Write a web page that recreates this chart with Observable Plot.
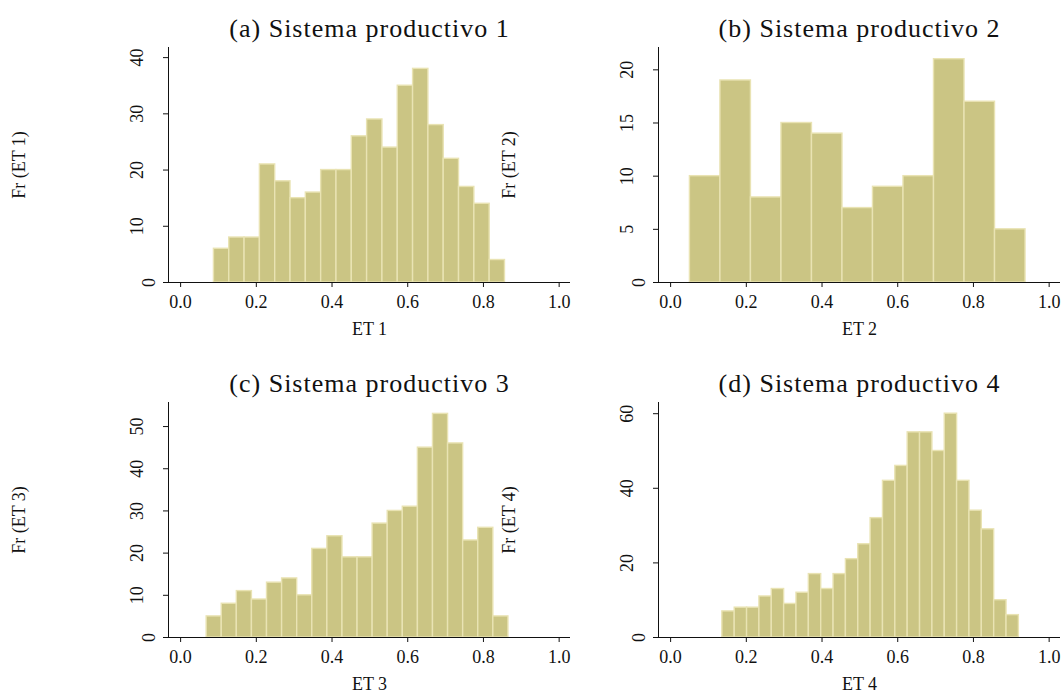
<!DOCTYPE html>
<html><head><meta charset="utf-8">
<script src="https://cdn.jsdelivr.net/npm/d3@7"></script>
<script src="https://cdn.jsdelivr.net/npm/@observablehq/plot@0.6"></script>
<style>
body{margin:0;background:#fff}
#chart{position:relative;width:1062px;height:694px;font-family:"Liberation Serif",serif}
.panel{position:absolute}
</style></head><body><div id="chart"></div>
<script>
const titles = ["(a) Sistema productivo 1", "(b) Sistema productivo 2", "(c) Sistema productivo 3", "(d) Sistema productivo 4"];
const xLabels = ["ET 1", "ET 2", "ET 3", "ET 4"];
const yLabels = ["Fr (ET 1)", "Fr (ET 2)", "Fr (ET 3)", "Fr (ET 4)"];
const binStart = [0.088, 0.051, 0.0688, 0.1367];
const binWidth = [0.04047, 0.0806, 0.03986, 0.03264];
const counts1 = [6, 8, 8, 21, 18, 15, 16, 20, 20, 26, 29, 24, 35, 38, 28, 22, 17, 14, 4];
const counts2 = [10, 19, 8, 15, 14, 7, 9, 10, 21, 17, 5];
const counts3 = [5, 8, 11, 9, 13, 14, 10, 21, 24, 19, 19, 27, 30, 31, 45, 53, 46, 23, 26, 5];
const counts4 = [7, 8, 8, 11, 13, 9, 12, 17, 13, 17, 21, 25, 32, 42, 46, 55, 55, 50, 60, 42, 34, 29, 10, 6];
const yTicks1 = [0, 10, 20, 30, 40];
const yTicks2 = [0, 5, 10, 15, 20];
const yTicks3 = [0, 10, 20, 30, 40, 50];
const yTicks4 = [0, 20, 40, 60];
const yMax = [41.8, 22.1, 55.7, 63.0];
const xTicks = [0, 0.2, 0.4, 0.6, 0.8, 1.0];
const xDomain = [-0.032, 1.03];

const allCounts = [counts1, counts2, counts3, counts4];
const allYTicks = [yTicks1, yTicks2, yTicks3, yTicks4];
const offsets = [[0, 0], [490, 0], [0, 355], [490, 355]];

const chart = document.getElementById("chart");
allCounts.forEach((counts, p) => {
  const bins = counts.map((c, i) => ({
    x1: binStart[p] + i * binWidth[p],
    x2: binStart[p] + (i + 1) * binWidth[p],
    count: c
  }));
  const plot = Plot.plot({
    width: 572,
    height: 339,
    marginLeft: 168,
    marginRight: 2,
    marginTop: 47,
    marginBottom: 57,
    style: {fontFamily: "Liberation Serif, serif", fontSize: "18px", background: "transparent", overflow: "visible", maxWidth: "none", color: "#111"},
    x: {domain: xDomain},
    y: {domain: [0, yMax[p]]},
    marks: [
      Plot.rectY(bins, {x1: "x1", x2: "x2", y: "count", fill: "#cbc584", stroke: "#e9e3b3", strokeWidth: 1.4}),
      Plot.ruleY([0], {stroke: "#111"}),
      Plot.ruleX([xDomain[0]], {stroke: "#111"}),
      Plot.axisX(xTicks, {tickSize: 5, tickPadding: 8, tickFormat: d3.format(".1f"), label: xLabels[p], labelAnchor: "center", labelOffset: 52, labelArrow: "none"}),
      Plot.axisY(allYTicks[p].filter(d => d !== 0), {tickSize: 5, tickPadding: 21, tickRotate: -90, label: null}),
      Plot.axisY([0], {tickSize: 5, tickPadding: 9, tickRotate: -90, label: yLabels[p], labelAnchor: "center", labelOffset: 156, labelArrow: "none"}),
      Plot.text([titles[p]], {frameAnchor: "top", dy: -19, fontSize: 26, lineAnchor: "middle", fill: "#111"})
    ]
  });
  plot.querySelectorAll("text").forEach(t => {
    if (t.textContent === titles[p]) t.style.letterSpacing = "1px";
  });
  const div = document.createElement("div");
  div.className = "panel";
  div.style.left = offsets[p][0] + "px";
  div.style.top = offsets[p][1] + "px";
  div.appendChild(plot);
  chart.appendChild(div);
});
</script></body></html>
